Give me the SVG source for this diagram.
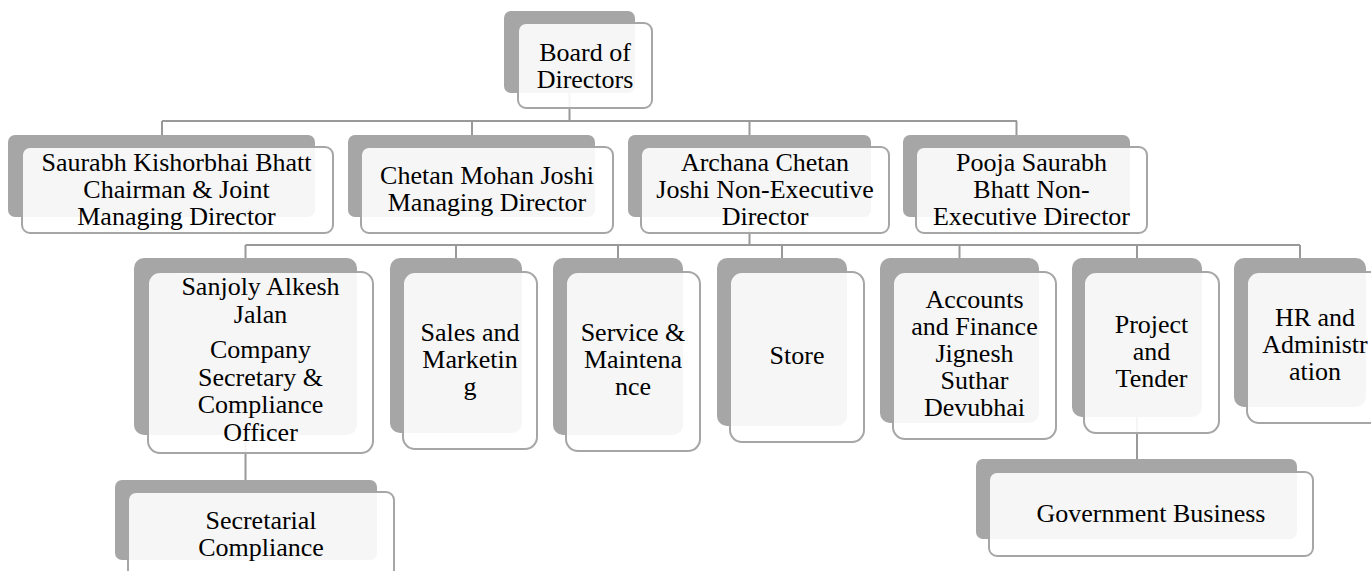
<svg xmlns="http://www.w3.org/2000/svg" width="1371" height="571" viewBox="0 0 1371 571">
<style>
.bk{fill:#a6a6a6}
.fr{fill:#fff;fill-opacity:0.9;stroke:#a6a6a6;stroke-width:2}
.ln{fill:none;stroke:#999;stroke-width:2}
.t{font-family:"Liberation Serif","Times New Roman",serif;font-size:26px;fill:#000;text-anchor:middle}
</style>
<rect width="1371" height="571" fill="#fff"/>
<g id="connectors">
<path class="ln" d="M569.5 93V121M162 121H1017M162 121V135M472 121V135M749.5 121V135M1016.5 121V135"/>
<path class="ln" d="M749.5 217V245M245.5 245H1300M245.5 245V258M456 245V258M618 245V258M782 245V258M959.5 245V258M1137 245V258M1300 245V258"/>
<path class="ln" d="M245.5 435V480M1137 417V459"/>
</g>
<g class="t">
<g id="board">
<rect class="bk" x="504" y="11" width="131" height="82" rx="7"/>
<rect class="fr" x="518" y="23" width="134" height="85" rx="8"/>
<text x="585" y="61">Board of</text><text x="585" y="88">Directors</text>
</g>
<g id="saurabh">
<rect class="bk" x="8" y="135" width="307" height="82" rx="7"/>
<rect class="fr" x="22" y="147" width="311" height="86" rx="8"/>
<text x="176.5" y="171">Saurabh Kishorbhai Bhatt</text><text x="176.5" y="198">Chairman &amp; Joint</text><text x="176.5" y="225">Managing Director</text>
</g>
<g id="chetan">
<rect class="bk" x="348" y="135" width="247" height="82" rx="7"/>
<rect class="fr" x="361" y="147" width="252" height="86" rx="8"/>
<text x="487" y="184">Chetan Mohan Joshi</text><text x="487" y="211">Managing Director</text>
</g>
<g id="archana">
<rect class="bk" x="628" y="135" width="243" height="82" rx="7"/>
<rect class="fr" x="641" y="147" width="248" height="86" rx="8"/>
<text x="765" y="171">Archana Chetan</text><text x="765" y="198">Joshi Non-Executive</text><text x="765" y="225">Director</text>
</g>
<g id="pooja">
<rect class="bk" x="903" y="135" width="227" height="82" rx="7"/>
<rect class="fr" x="916" y="147" width="231" height="86" rx="8"/>
<text x="1031.5" y="171">Pooja Saurabh</text><text x="1031.5" y="198">Bhatt Non-</text><text x="1031.5" y="225">Executive Director</text>
</g>
<g id="sanjoly">
<rect class="bk" x="134" y="258" width="223" height="177" rx="10"/>
<rect class="fr" x="148" y="272" width="225" height="181" rx="12"/>
<text x="260.5" y="295">Sanjoly Alkesh</text><text x="260.5" y="323">Jalan</text><text x="260.5" y="358">Company</text><text x="260.5" y="386">Secretary &amp;</text><text x="260.5" y="413">Compliance</text><text x="260.5" y="441">Officer</text>
</g>
<g id="sales">
<rect class="bk" x="390" y="258" width="132" height="175" rx="10"/>
<rect class="fr" x="403" y="272" width="134" height="177" rx="12"/>
<text x="470" y="341">Sales and</text><text x="470" y="368">Marketin</text><text x="470" y="395">g</text>
</g>
<g id="service">
<rect class="bk" x="553" y="258" width="130" height="177" rx="10"/>
<rect class="fr" x="566" y="272" width="134" height="179" rx="12"/>
<text x="633" y="341">Service &amp;</text><text x="633" y="368">Maintena</text><text x="633" y="395">nce</text>
</g>
<g id="store">
<rect class="bk" x="717" y="258" width="130" height="168" rx="10"/>
<rect class="fr" x="730" y="272" width="134" height="170" rx="12"/>
<text x="797" y="364">Store</text>
</g>
<g id="accounts">
<rect class="bk" x="880" y="258" width="159" height="165" rx="10"/>
<rect class="fr" x="893" y="272" width="163" height="167" rx="12"/>
<text x="974.5" y="308">Accounts</text><text x="974.5" y="335">and Finance</text><text x="974.5" y="362">Jignesh</text><text x="974.5" y="389">Suthar</text><text x="974.5" y="416">Devubhai</text>
</g>
<g id="project">
<rect class="bk" x="1072" y="258" width="130" height="159" rx="10"/>
<rect class="fr" x="1084" y="272" width="135" height="161" rx="12"/>
<text x="1151.5" y="333">Project</text><text x="1151.5" y="360">and</text><text x="1151.5" y="387">Tender</text>
</g>
<g id="hr">
<rect class="bk" x="1234" y="258" width="132" height="149" rx="10"/>
<rect class="fr" x="1247" y="272" width="136" height="151" rx="12"/>
<text x="1315" y="326">HR and</text><text x="1315" y="353">Administr</text><text x="1315" y="380">ation</text>
</g>
<g id="secretarial">
<rect class="bk" x="115" y="480" width="262" height="80" rx="7"/>
<rect class="fr" x="128" y="492" width="266" height="90" rx="8"/>
<text x="261" y="529">Secretarial</text><text x="261" y="556">Compliance</text>
</g>
<g id="government">
<rect class="bk" x="976" y="459" width="321" height="80" rx="7"/>
<rect class="fr" x="989" y="472" width="324" height="84" rx="8"/>
<text x="1151" y="522">Government Business</text>
</g>
</g>
</svg>
